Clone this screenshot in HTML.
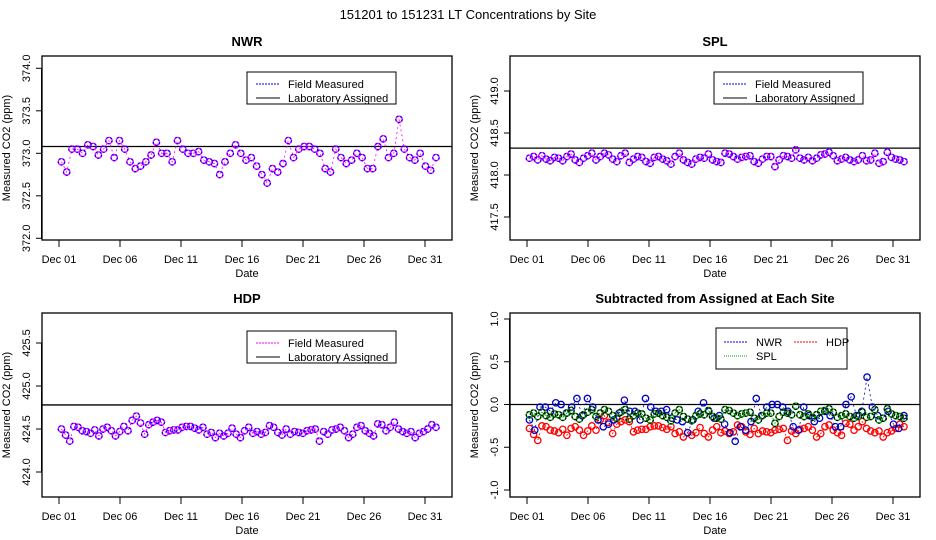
<!DOCTYPE html>
<html><head><meta charset="utf-8"><style>
body{margin:0;background:#fff}
svg{display:block;font-family:"Liberation Sans",sans-serif}
</style></head><body>
<svg id="chart" width="936" height="540" viewBox="0 0 936 540" xmlns="http://www.w3.org/2000/svg">
<text x="468" y="19" font-size="13" text-anchor="middle">151201  to  151231 LT Concentrations by Site</text>
</svg>
<script>
const dayTicks = [1, 6, 11, 16, 21, 26, 31];
const dayTickLabels = ["Dec 01", "Dec 06", "Dec 11", "Dec 16", "Dec 21", "Dec 26", "Dec 31"];
const nwrValues = [372.9,372.78,373.05,373.05,373.0,373.1,373.08,372.98,373.05,373.15,372.95,373.15,373.05,372.9,372.82,372.85,372.9,372.98,373.13,373.0,373.0,372.9,373.15,373.05,373.0,373.0,373.02,372.92,372.9,372.88,372.75,372.9,373.0,373.1,373.0,372.92,372.95,372.85,372.75,372.65,372.82,372.78,372.88,373.15,372.95,373.05,373.08,373.08,373.05,373.0,372.82,372.78,373.05,372.95,372.88,372.92,373.0,372.95,372.82,372.82,373.08,373.17,372.95,373.0,373.4,373.05,372.95,372.92,373.0,372.85,372.8,372.95];
const splValues = [418.20,418.22,418.18,418.23,418.19,418.17,418.21,418.20,418.17,418.22,418.25,418.18,418.15,418.20,418.23,418.26,418.18,418.22,418.26,418.24,418.19,418.16,418.23,418.26,418.15,418.19,418.22,418.21,418.16,418.14,418.21,418.22,418.19,418.17,418.13,418.22,418.26,418.18,418.15,418.13,418.19,418.21,418.20,418.25,418.18,418.16,418.15,418.26,418.25,418.22,418.19,418.21,418.22,418.23,418.16,418.14,418.19,418.22,418.22,418.10,418.18,418.23,418.22,418.20,418.30,418.20,418.18,418.21,418.17,418.20,418.24,418.25,418.27,418.23,418.17,418.19,418.21,418.18,418.16,418.18,418.23,418.17,418.18,418.26,418.14,418.16,418.27,418.21,418.19,418.18,418.16];
const hdpValues = [424.50,424.43,424.36,424.53,424.52,424.48,424.47,424.45,424.49,424.42,424.50,424.52,424.48,424.42,424.47,424.53,424.48,424.60,424.65,424.57,424.44,424.55,424.58,424.60,424.58,424.46,424.48,424.49,424.49,424.52,424.53,424.53,424.51,424.49,424.52,424.44,424.46,424.40,424.45,424.42,424.45,424.51,424.44,424.40,424.48,424.52,424.45,424.47,424.44,424.46,424.54,424.52,424.46,424.43,424.50,424.44,424.47,424.46,424.45,424.48,424.49,424.50,424.36,424.47,424.44,424.49,424.50,424.52,424.48,424.40,424.44,424.52,424.54,424.48,424.45,424.42,424.56,424.55,424.48,424.52,424.58,424.50,424.47,424.45,424.47,424.40,424.45,424.47,424.50,424.55,424.52];
const assigned = [373.08, 418.32, 424.78];
const nwrTicks = [372.0, 372.5, 373.0, 373.5, 374.0];
const splTicks = [417.5, 418.0, 418.5, 419.0];
const hdpTicks = [424.0, 424.5, 425.0, 425.5];
const diffTicks = [-1.0, -0.5, 0.0, 0.5, 1.0];

const svg = document.getElementById('chart');
const NS = 'http://www.w3.org/2000/svg';
function mk(tag, attrs, parent) {
  const e = document.createElementNS(NS, tag);
  for (const k in attrs) e.setAttribute(k, attrs[k]);
  (parent || svg).appendChild(e);
  return e;
}
function dayOf(i, n) { return 1.2 + i * (30.7 / (n - 1)); }

function panel(p) {
  const g = mk('g', {});
  
  
  const xs = d => p.x0 + (d - 1) * 12.2;
  const ys = v => p.yTop + (p.vTop - v) * p.ppx;
  const box = mk('rect', {x: p.left, y: p.top, width: 410, height: p.bottom - p.top, fill: 'none', stroke: '#000', 'stroke-width': 1.3}, g);
  
  
  const t = mk('text', {x: p.left + 205, y: p.top - 10, 'font-size': 13, 'font-weight': 'bold', 'text-anchor': 'middle'}, g);
  t.textContent = p.title;
  
  
  p.ticks.forEach(v => {
    const y = ys(v);
    mk('line', {x1: p.left - 6, x2: p.left, y1: y, y2: y, stroke: '#000'}, g);
    const lb = mk('text', {x: 0, y: 0, 'font-size': 11, 'text-anchor': 'middle', transform: `translate(${p.left - 12},${y}) rotate(-90)`}, g);
    lb.textContent = v.toFixed(1);
    
    
  });
  mk('line', {x1: p.left - 0.5, x2: p.left - 0.5, y1: ys(p.ticks[p.ticks.length - 1]), y2: ys(p.ticks[0]), stroke: '#000'}, g);
  const yl = mk('text', {x: 0, y: 0, 'font-size': 11, 'text-anchor': 'middle', transform: `translate(${p.left - 32},${(p.top + p.bottom) / 2}) rotate(-90)`}, g);
  yl.textContent = 'Measured CO2 (ppm)';
  
  
  dayTicks.forEach((d, i) => {
    const x = xs(d);
    mk('line', {x1: x, x2: x, y1: p.bottom, y2: p.bottom + 7, stroke: '#000'}, g);
    const lb = mk('text', {x: x, y: p.bottom + 23, 'font-size': 11, 'text-anchor': 'middle'}, g);
    lb.textContent = dayTickLabels[i];
    
    
  });
  const xl = mk('text', {x: p.left + 205, y: p.bottom + 37, 'font-size': 11, 'text-anchor': 'middle'}, g);
  xl.textContent = 'Date';
  
  
  const ref = mk('line', {x1: p.left, x2: p.left + 410, y1: ys(p.refVal), y2: ys(p.refVal), stroke: '#000', 'stroke-width': 1.3}, g);
  
  
  p.series.forEach(s => {
    const n = s.values.length;
    const pts = s.values.map((v, i) => [xs(dayOf(i, n)), ys(v)]);
    const pl = mk('polyline', {points: pts.map(q => q.join(',')).join(' '), fill: 'none', stroke: s.color, 'stroke-width': 0.8, 'stroke-dasharray': '2,3'}, g);
    
    
    pts.forEach(q => {
      const c = mk('circle', {cx: q[0], cy: q[1], r: 3.2, fill: 'none', stroke: s.color, 'stroke-width': 1.3}, g);
      
      
      if (s.color2) mk('circle', {cx: q[0], cy: q[1], r: 3.2, fill: 'none', stroke: s.color2, 'stroke-width': 1.3, 'stroke-dasharray': '2,2'}, g);
    });
  });
  const L = p.legend;
  const lg = mk('g', {}, g);
  
  
  mk('rect', {x: L.x, y: L.y, width: L.w, height: L.h, fill: '#fff', stroke: '#000'}, lg);
  L.items.forEach(it => {
    mk('line', {x1: it.x, x2: it.x + 24, y1: it.y, y2: it.y, stroke: it.color, 'stroke-dasharray': it.dash || 'none'}, lg);
    const tx = mk('text', {x: it.x + 32, y: it.y + 4, 'font-size': 11}, lg);
    tx.textContent = it.label;
    
    
  });
}
function stdLegend(x, y, c) {
  return {x: x, y: y, w: 149, h: 32, items: [
    {x: x + 9, y: y + 12, color: c, dash: '2,1', label: 'Field Measured'},
    {x: x + 9, y: y + 26, color: '#000', label: 'Laboratory Assigned'}]};
}
panel({name: 'nwr', title: 'NWR', left: 42, top: 56, bottom: 240, x0: 59, yTop: 68.3, vTop: 374, ppx: 85,
  ticks: nwrTicks, refVal: assigned[0], series: [{name: 'nwr', values: nwrValues, color: '#ff00ff', color2: '#0000ff'}],
  legend: stdLegend(247, 72, '#0000ff')});
panel({name: 'spl', title: 'SPL', left: 510, top: 56, bottom: 240, x0: 527, yTop: 91, vTop: 419, ppx: 84,
  ticks: splTicks, refVal: assigned[1], series: [{name: 'spl', values: splValues, color: '#ff00ff', color2: '#0000ff'}],
  legend: stdLegend(714, 72, '#0000ff')});
panel({name: 'hdp', title: 'HDP', left: 42, top: 313, bottom: 497, x0: 59, yTop: 343, vTop: 425.5, ppx: 86,
  ticks: hdpTicks, refVal: assigned[2], series: [{name: 'hdp', values: hdpValues, color: '#ff00ff', color2: '#0000ff'}],
  legend: stdLegend(247, 331, '#ff00ff')});
panel({name: 'diff', title: 'Subtracted from Assigned at Each Site', left: 510, top: 313, bottom: 497, x0: 527, yTop: 319, vTop: 1, ppx: 85.5,
  ticks: diffTicks, refVal: 0, series: [
    {name: 'hdp-diff', values: hdpValues.map(v => v - assigned[2]), color: '#ff0000'},
    {name: 'nwr-diff', values: nwrValues.map(v => v - assigned[0]), color: '#0000c0'},
    {name: 'spl-diff', values: splValues.map(v => v - assigned[1]), color: '#00a000', color2: '#000000'}],
  legend: {x: 716, y: 328, w: 131, h: 41, items: [
    {x: 724, y: 342, color: '#0000ff', dash: '2,1', label: 'NWR'},
    {x: 794, y: 342, color: '#ff0000', dash: '2,1', label: 'HDP'},
    {x: 724, y: 356, color: '#00a000', dash: '1,1', label: 'SPL'}]}});
</script>
</body></html>
